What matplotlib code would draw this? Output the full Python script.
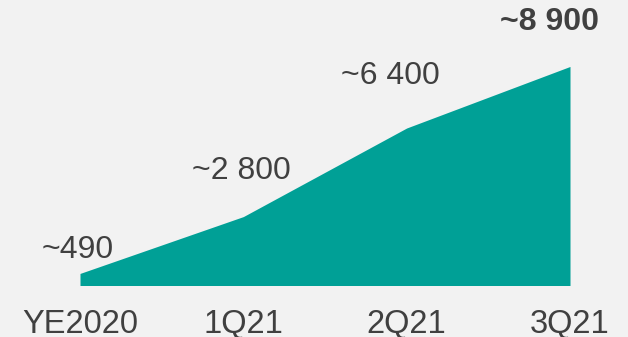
import matplotlib
matplotlib.use("Agg")
import matplotlib.pyplot as plt

categories = ["YE2020", "1Q21", "2Q21", "3Q21"]
values = [490, 2800, 6400, 8900]
labels = ["~490", "~2 800", "~6 400", "~8 900"]

BG = "#F2F2F2"
TEAL = "#00A096"
TXT = "#404040"

plt.rcParams['font.family'] = ['Liberation Sans', 'DejaVu Sans']

fig = plt.figure(figsize=(6.28, 3.37), dpi=100, facecolor=BG)
# axes from baseline (285.5 px from top) to top
bottom = (337 - 285.5) / 337
ax = fig.add_axes([0, bottom, 1, 1 - bottom], facecolor=BG)
x = list(range(len(categories)))
ax.fill_between(x, 0, values, color=TEAL, linewidth=0)
ax.set_xlim(-80 / 163.33, 3 + 58 / 163.33)
ax.set_ylim(0, 285.5 / 0.02461)
for s in ax.spines.values():
    s.set_visible(False)
ax.set_yticks([])
ax.set_xticks(x)
ax.set_xticklabels(categories, fontsize=23.5, color=TXT)
ax.tick_params(axis='x', length=0, pad=17)

offsets = [(-1.4, 17), (-1.4, 33), (-11.5, 37.4), (-15, 32)]
for i, (v, lab, off) in enumerate(zip(values, labels, offsets)):
    ax.annotate(lab, (i, v), xytext=off, textcoords='offset points',
                ha='center', va='center', fontsize=23, color=TXT,
                fontweight='bold' if i == len(values) - 1 else 'normal',
                annotation_clip=False)

fig.savefig("out.png", dpi=100, facecolor=BG)
